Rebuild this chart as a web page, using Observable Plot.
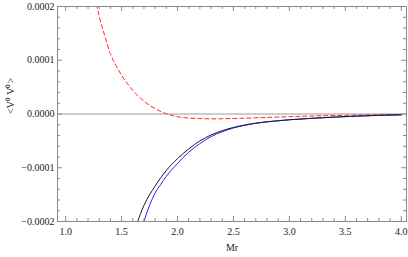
<!DOCTYPE html>
<html><head><meta charset="utf-8">
<script src="https://cdn.jsdelivr.net/npm/d3@7"></script>
<script src="https://cdn.jsdelivr.net/npm/@observablehq/plot@0.6"></script>
<style>body{margin:0;background:#fff}svg{display:block}svg text{font-family:"Liberation Serif","Times New Roman",serif !important}</style>
</head><body><div id="chart"></div>
<script>
// Values in units of 1e-4
const blackX = [1.60, 1.64, 1.70, 1.80, 1.90, 2.00, 2.10, 2.20, 2.30, 2.40, 2.50, 2.60, 2.70, 2.80, 2.90, 3.00, 3.20, 3.40, 3.60, 3.80, 4.00];
const blackY = [-2.28, -2.02, -1.70, -1.34, -1.05, -0.83, -0.65, -0.50, -0.39, -0.31, -0.25, -0.205, -0.17, -0.145, -0.125, -0.107, -0.08, -0.058, -0.04, -0.025, -0.015];
const blueX = [1.66, 1.70, 1.75, 1.80, 1.85, 1.90, 2.00, 2.10, 2.20, 2.30, 2.40, 2.50, 2.60, 2.70, 2.80, 2.90, 3.00, 3.20, 3.40, 3.60, 3.80, 4.00];
const blueY = [-2.30, -2.00, -1.70, -1.47, -1.31, -1.16, -0.92, -0.71, -0.55, -0.42, -0.33, -0.26, -0.21, -0.172, -0.146, -0.126, -0.108, -0.08, -0.058, -0.04, -0.025, -0.015];
const redX = [1.25, 1.30, 1.35, 1.40, 1.45, 1.50, 1.60, 1.70, 1.80, 1.90, 2.00, 2.10, 2.20, 2.30, 2.40, 2.60, 2.80, 3.00, 3.20, 3.50, 3.80, 4.00];
const redY = [2.30, 1.82, 1.45, 1.12, 0.90, 0.72, 0.44, 0.24, 0.10, 0.005, -0.05, -0.075, -0.085, -0.09, -0.088, -0.078, -0.064, -0.05, -0.037, -0.024, -0.015, -0.011];
const xMajor = [1.0, 1.5, 2.0, 2.5, 3.0, 3.5, 4.0];
const xMinor = [1.1,1.2,1.3,1.4,1.6,1.7,1.8,1.9,2.1,2.2,2.3,2.4,2.6,2.7,2.8,2.9,3.1,3.2,3.3,3.4,3.6,3.7,3.8,3.9];
const yMajor = [-0.0002, -0.0001, 0, 0.0001, 0.0002];
const yMinor = [-0.00018,-0.00016,-0.00014,-0.00012,-0.00008,-0.00006,-0.00004,-0.00002,0.00002,0.00004,0.00006,0.00008,0.00012,0.00014,0.00016,0.00018];
const xLabel = "Mr";
const yLabel = "<V⁰ V⁰>";

const toRows = (xs, ys) => xs.map((x, i) => ({x, y: ys[i] * 1e-4}));
const black = toRows(blackX, blackY), blue = toRows(blueX, blueY), red = toRows(redX, redY);

const H = 215, W = 349;
const frameCol = "#8a8a8a";
const chart = Plot.plot({
  width: 408, height: 257,
  marginLeft: 57, marginRight: 2, marginTop: 6, marginBottom: 36,
  style: {fontFamily: "'Liberation Serif', 'Times New Roman', serif", fontSize: "10px", color: "#222", background: "#fff"},
  x: {domain: [0.927, 4.047]},
  y: {domain: [-0.0002, 0.0002]},
  marks: [
    Plot.ruleY([0], {stroke: "#999", strokeWidth: 1}),
    Plot.line(red, {x: "x", y: "y", stroke: "#ff2020", strokeWidth: 1, strokeDasharray: "4,3", curve: "monotone-x", clip: true}),
    Plot.line(blue, {x: "x", y: "y", stroke: "#2222ff", strokeWidth: 1, curve: "monotone-x", clip: true}),
    Plot.line(black, {x: "x", y: "y", stroke: "#1a1a2a", strokeWidth: 1, curve: "monotone-x", clip: true}),
    Plot.frame({stroke: frameCol}),
    Plot.ruleX(xMajor, {x: d => d, insetTop: H - 5, stroke: frameCol}),
    Plot.ruleX(xMinor, {x: d => d, insetTop: H - 3, stroke: frameCol}),
    Plot.ruleX(xMajor, {x: d => d, insetBottom: H - 5, stroke: frameCol}),
    Plot.ruleX(xMinor, {x: d => d, insetBottom: H - 3, stroke: frameCol}),
    Plot.ruleY(yMajor, {y: d => d, insetRight: W - 5, stroke: frameCol}),
    Plot.ruleY(yMinor, {y: d => d, insetRight: W - 3, stroke: frameCol}),
    Plot.ruleY(yMajor, {y: d => d, insetLeft: W - 5, stroke: frameCol}),
    Plot.ruleY(yMinor, {y: d => d, insetLeft: W - 3, stroke: frameCol}),
    Plot.axisX(xMajor, {tickSize: 0, tickPadding: 6, tickFormat: d3.format(".1f"), label: null}),
    Plot.axisY(yMajor, {tickSize: 0, tickPadding: 3, tickFormat: d3.format(".4f"), label: null}),
    Plot.text([xLabel], {frameAnchor: "bottom", dy: 29, text: d => d, fontSize: 10}),
    Plot.text([yLabel], {frameAnchor: "left", dx: -47, rotate: -90, text: d => d, fontSize: 10})
  ]
});
document.getElementById("chart").appendChild(chart);
</script>
</body></html>
